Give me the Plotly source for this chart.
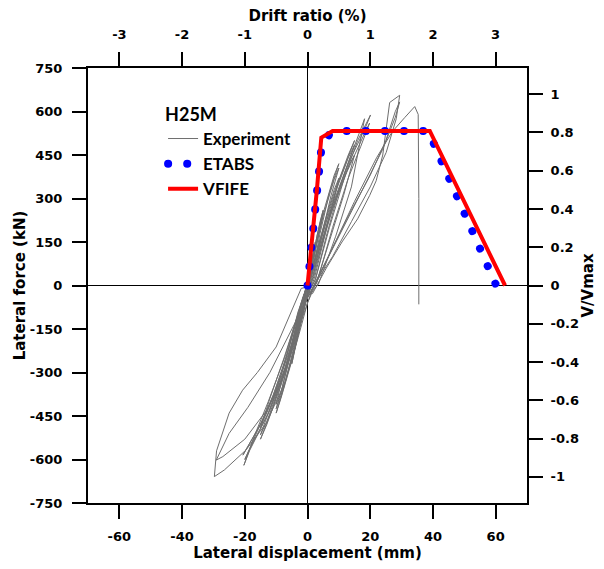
import plotly.graph_objects as go

# Experimental hysteresis (lateral displacement mm, lateral force kN)
exp_disp = [
    0, 1, 2.5, 1.8, 0.3, -1, -2.5, -1.8, -0.3,
    1, 3, 5, 4, 1.5, 0, -1.5, -3.5, -5, -4, -1.5, 0,
    1.2, 3.2, 5, 4, 1.5, 0, -1.5, -3.5, -5, -4, -1.5, 0,
    1.5, 4, 7, 10, 8.5, 5, 2, 0, -2, -4.5, -7.5, -10, -8.5, -5, -2, 0,
    1.8, 4.5, 7.5, 10, 8.5, 5, 2, 0, -2, -5, -8, -10, -8.5, -5, -2, 0,
    2.2, 5, 8, 10, 8.5, 5.5, 2.5, 0, -2.5, -5.5, -8.5, -10, -8.5, -5.5, -2.5, -0.5,
    2, 5.5, 10, 15, 13, 8.5, 4, 0.5, -2.5, -6.5, -11, -15, -13, -8, -3.5, 0,
    2.5, 6, 10.5, 15, 13, 8.5, 4, 0.5, -3, -7, -11.5, -15, -13, -8, -3.5, 0,
    3, 7, 11.5, 15, 13.5, 9, 4.5, 1, -3, -7.5, -12, -15, -13.5, -8.5, -4, -0.5,
    2.5, 7, 12, 16, 20.1, 18.5, 13, 7, 2, -1, -5, -10, -15, -20.6, -18.5, -13, -7, -2.5, 0,
    3, 8, 13, 17, 19.8, 18, 12.5, 6.5, 1.5, -1.5, -6, -11, -16, -20, -18, -12.5, -6.5, -2, 0,
    3.5, 9, 14, 18.2, 17, 12, 6, 1, -2, -7, -12.5, -17, -20.3, -18.5, -12, -6, -1.5, 0.5,
    1.6, 6, 11, 16, 19.8, 21.9, 24, 26.2, 29.4, 28.3, 25.1, 20, 14, 8, 2,
    -2, -10, -16, -20.7, -25, -29, -29.7, -26.5, -19.6, -13.2, -7, -3, 0, 2,
    8, 14, 20, 25, 28, 29.4, 28, 24, 18, 11, 4, 0,
    -5, -12, -19, -25, -29.1, -27, -20, -13, -7, -2.5, 0, 2,
    8, 15, 22, 27, 31, 34.2, 35.3, 35.5, 35.5,
]
exp_force = [
    0, 70, 150, 110, 20, -60, -140, -100, -15,
    50, 170, 260, 220, 90, 10, -80, -190, -270, -220, -100, -20,
    40, 160, 250, 210, 85, 5, -75, -180, -260, -215, -95, -25,
    40, 180, 320, 420, 380, 250, 110, 20, -80, -220, -350, -440, -390, -260, -120, -30,
    30, 170, 310, 405, 365, 240, 100, 15, -70, -215, -350, -425, -380, -250, -115, -35,
    25, 150, 280, 370, 330, 220, 95, 10, -90, -230, -340, -410, -370, -240, -110, -40,
    30, 180, 360, 500, 450, 320, 160, 20, -90, -260, -420, -530, -480, -330, -160, -30,
    20, 170, 345, 485, 440, 310, 150, 15, -90, -260, -410, -515, -470, -320, -150, -35,
    15, 150, 310, 450, 420, 300, 140, 10, -100, -250, -390, -490, -450, -310, -140, -40,
    20, 200, 380, 500, 588, 545, 420, 240, 60, -30, -200, -360, -480, -585, -545, -440, -280, -110, -40,
    10, 200, 370, 480, 560, 520, 390, 220, 40, -40, -220, -380, -500, -600, -555, -440, -270, -100, -40,
    5, 170, 340, 575, 540, 400, 220, 30, -60, -240, -400, -520, -620, -570, -430, -260, -90, -20,
    -28, 60, 150, 230, 310, 361, 450, 631, 656, 575, 459, 340, 220, 100, 0,
    -10, -212, -300, -361, -440, -570, -659, -636, -567, -475, -330, -180, -60, 0,
    130, 260, 380, 500, 600, 633, 580, 470, 340, 190, 40, -40,
    -150, -300, -420, -510, -602, -590, -530, -430, -300, -140, -60, -10,
    130, 290, 440, 530, 579, 617, 590, 300, -65,
]

# ETABS pushover curve
etabs_disp = [0, 1.7, 3.3, 4.4, 7, 10, 38.5, 60.2]
etabs_force = [0, 200, 338, 470, 522, 533, 533, 0]

# VFIFE pushover curve
vfife_disp = [0, 1.5, 3, 4.4, 8, 39, 63]
vfife_force = [0, 150, 330, 510, 533, 533, 0]

v_max = 660  # kN, normalising force for right axis

x_ticks = [-60, -40, -20, 0, 20, 40, 60]
y_ticks = [750, 600, 450, 300, 150, 0, -150, -300, -450, -600, -750]
drift_ticks = [-3, -2, -1, 0, 1, 2, 3]
vr_ticks = [1, 0.8, 0.6, 0.4, 0.2, 0, -0.2, -0.4, -0.6, -0.8, -1]

tick_font = dict(family="DejaVu Sans", size=13, color="black", weight="bold")
title_font = dict(family="DejaVu Sans", size=15, color="black", weight="bold")
leg_font = dict(family="Lato", size=17, color="black", weight="bold")

fig = go.Figure()
fig.add_trace(go.Scatter(x=exp_disp, y=exp_force, mode="lines", name="Experiment",
                         line=dict(color="#6e6e6e", width=1)))
fig.add_trace(go.Scatter(x=etabs_disp, y=etabs_force, mode="lines", name="ETABS",
                         line=dict(color="#0000ff", width=8, dash="0.1px,19px")))
fig.add_trace(go.Scatter(x=vfife_disp, y=vfife_force, mode="lines", name="VFIFE",
                         line=dict(color="#ff0000", width=4)))
# empty trace so the secondary (drift / V/Vmax) axes get drawn
fig.add_trace(go.Scatter(x=[None], y=[None], xaxis="x2", yaxis="y2", showlegend=False,
                         hoverinfo="skip"))

axis_common = dict(showline=True, linecolor="black", linewidth=2, ticks="outside",
                   ticklen=14, tickwidth=2, tickcolor="black", showgrid=False,
                   automargin=False, tickfont=tick_font, title_font=title_font)

fig.update_layout(
    width=604, height=569,
    margin=dict(l=88, r=77, t=68, b=66),
    paper_bgcolor="white", plot_bgcolor="white",
    xaxis=dict(range=[-70, 70], tickvals=x_ticks, ticktext=[str(v) for v in x_ticks],
               zeroline=True, zerolinecolor="black", zerolinewidth=1, ticklabelstandoff=6,
               title=dict(text="Lateral displacement (mm)", standoff=2), **axis_common),
    yaxis=dict(range=[-750, 750], tickvals=y_ticks, ticktext=[str(v) for v in y_ticks],
               zeroline=True, zerolinecolor="black", zerolinewidth=1, ticklabelstandoff=7,
               title=dict(text="Lateral force (kN)", standoff=1), **axis_common),
    xaxis2=dict(range=[-3.5, 3.5], overlaying="x", side="top", anchor="y",
                tickvals=drift_ticks, ticktext=[str(v) for v in drift_ticks], zeroline=False,
                ticklabelstandoff=8,
                title=dict(text="Drift ratio (%)", standoff=2), **axis_common),
    yaxis2=dict(range=[-750 / v_max, 750 / v_max], overlaying="y", side="right", anchor="x",
                tickvals=vr_ticks, ticktext=[f"{v:g}" for v in vr_ticks], zeroline=False,
                ticklabelstandoff=5,
                title=dict(text="V/Vmax", standoff=4), **axis_common),
    legend=dict(x=0.171, y=0.932, xanchor="left", yanchor="top", bgcolor="rgba(0,0,0,0)",
                font=leg_font, title=dict(text="H25M", font=dict(leg_font, size=18)),
                tracegroupgap=0),
    showlegend=True,
)

# page without body margin; round dash caps so the ETABS dashes show as dots
post = ("document.body.style.margin='0';document.body.style.overflow='hidden';"
        "document.querySelectorAll('path.js-line').forEach(function(p){"
        "if(p.style.strokeDasharray && p.style.strokeDasharray !== 'none'){"
        "p.style.strokeLinecap='round';}});")

fig.write_html("out.html", post_script=post, config={"displayModeBar": False})
